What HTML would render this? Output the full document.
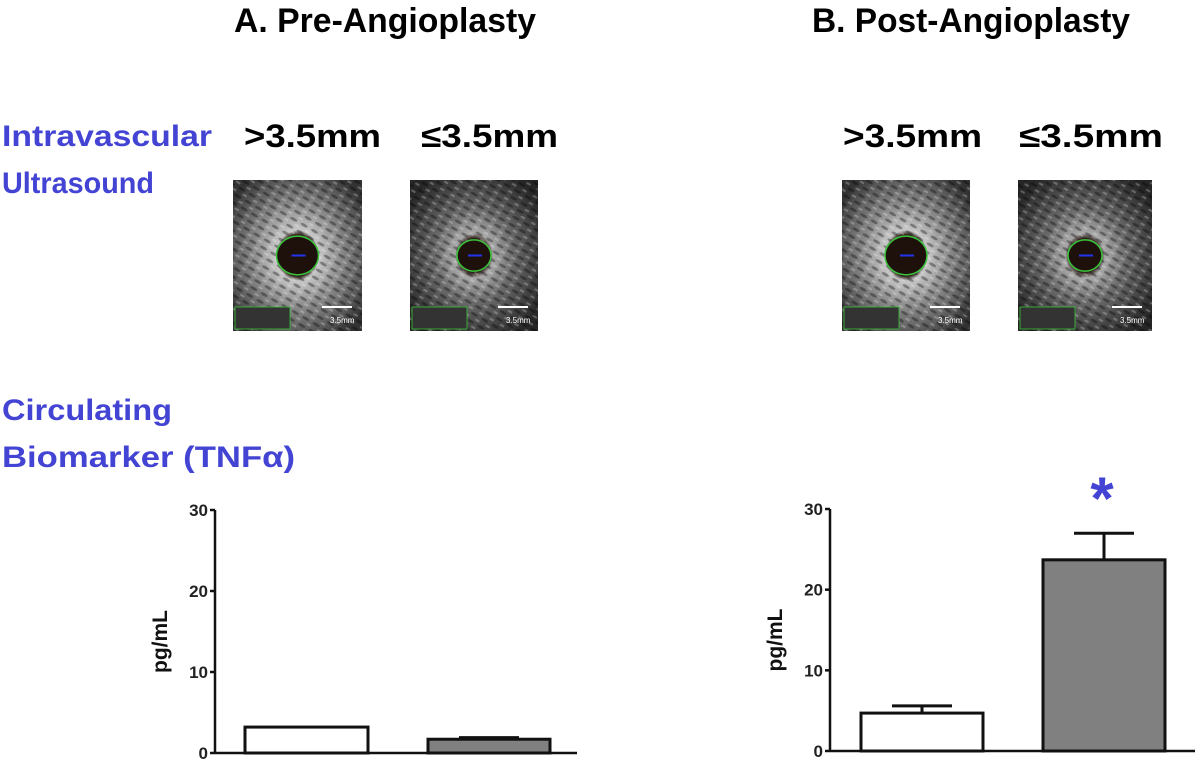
<!DOCTYPE html>
<html><head><meta charset="utf-8"><style>
html,body{margin:0;padding:0;background:#fff;}
svg{display:block;}
.t{font-family:"Liberation Sans",sans-serif;font-weight:bold;}
</style></head><body>
<svg id="fig" width="1200" height="760" viewBox="0 0 1200 760" xmlns="http://www.w3.org/2000/svg">
<defs>
<radialGradient id="us" cx="50%" cy="50%" r="62%">
<stop offset="0" stop-color="#2a1a14"/><stop offset="0.22" stop-color="#2a1a14"/><stop offset="0.27" stop-color="#c8c8c8"/><stop offset="0.55" stop-color="#8a8a8a"/><stop offset="0.85" stop-color="#555"/><stop offset="1" stop-color="#333"/>
</radialGradient>
<radialGradient id="us2" cx="50%" cy="50%" r="62%">
<stop offset="0" stop-color="#2a1a14"/><stop offset="0.18" stop-color="#2a1a14"/><stop offset="0.24" stop-color="#aaa"/><stop offset="0.5" stop-color="#6a6a6a"/><stop offset="0.85" stop-color="#3a3a3a"/><stop offset="1" stop-color="#262626"/>
</radialGradient>
<pattern id="speck" width="12" height="8" patternUnits="userSpaceOnUse" patternTransform="rotate(30)">
<rect width="12" height="8" fill="none"/><ellipse cx="4" cy="3" rx="4" ry="1.5" fill="#000" opacity="0.35"/><ellipse cx="10" cy="7" rx="3" ry="1.2" fill="#fff" opacity="0.25"/>
</pattern>
</defs>
<text class="t" x="234" y="32" font-size="34" textLength="302" lengthAdjust="spacingAndGlyphs">A. Pre-Angioplasty</text>
<text class="t" x="812" y="32" font-size="34" textLength="318" lengthAdjust="spacingAndGlyphs">B. Post-Angioplasty</text>
<g fill="#4444d4" class="t" font-size="30">
<text x="2" y="146" textLength="210" lengthAdjust="spacingAndGlyphs">Intravascular</text>
<text x="2" y="193" textLength="152" lengthAdjust="spacingAndGlyphs">Ultrasound</text>
<text x="2" y="420" textLength="170" lengthAdjust="spacingAndGlyphs">Circulating</text>
<text x="2" y="467" textLength="293" lengthAdjust="spacingAndGlyphs">Biomarker (TNFα)</text>
</g>
<g class="t" font-size="32" fill="#000">
<text x="244" y="147" textLength="137" lengthAdjust="spacingAndGlyphs">&gt;3.5mm</text>
<text x="421" y="147" textLength="137" lengthAdjust="spacingAndGlyphs">≤3.5mm</text>
<text x="843" y="147" textLength="139" lengthAdjust="spacingAndGlyphs">&gt;3.5mm</text>
<text x="1019" y="147" textLength="144" lengthAdjust="spacingAndGlyphs">≤3.5mm</text>
</g>
<g id="images"></g>
<g id="chartA"></g>
<g id="chartB"></g>
</svg>
<script>
const NS="http://www.w3.org/2000/svg";
const categories=["gt3.5mm","le3.5mm"];
const preValues=[3.2,1.7];
const preErr=[3.2,1.9];
const postValues=[4.7,23.7];
const postErr=[5.6,27.0];
const yTicks=[0,10,20,30];
function mk(p,tag,attrs){const e=document.createElementNS(NS,tag);for(const k in attrs)e.setAttribute(k,attrs[k]);p.appendChild(e);return e;}

const img=document.getElementById('images');
const boxes=[[233,180,129,151,'us'],[410,180,128,151,'us2'],[842,180,128,151,'us'],[1018,180,134,151,'us2']];
boxes.forEach((b,i)=>{
 const g=mk(img,'g',{});
 
 
 const [x,y,w,h,gr]=b;
 mk(g,'rect',{x:x,y:y,width:w,height:h,fill:'url(#'+gr+')'});
 mk(g,'rect',{x:x,y:y,width:w,height:h,fill:'url(#speck)'});
 const cx=x+w*0.5,cy=y+h*0.5;
 const r=i%2?17:21;
 mk(g,'ellipse',{cx:cx,cy:cy,rx:r,ry:r*0.92,fill:'#1e110c',stroke:'#3ac43a','stroke-width':1.5});
 mk(g,'line',{x1:cx-6,y1:cy,x2:cx+8,y2:cy,stroke:'#2233ee','stroke-width':2});
 mk(g,'line',{x1:x+w-40,y1:y+h-24,x2:x+w-10,y2:y+h-24,stroke:'#fff','stroke-width':2});
 const t=mk(g,'text',{x:x+w-32,y:y+h-8,fill:'#fff','font-size':8,'font-family':'Liberation Sans, sans-serif'});t.textContent='3.5mm';
 mk(g,'rect',{x:x+2,y:y+h-24,width:55,height:22,fill:'#333',stroke:'#3ac43a','stroke-width':0.8});
});

function chart(id,x0,y0,y30,xEnd,vals,errs,bars,star){
 const g=document.getElementById(id);
 
 
 const ys=v=>y0-(v/30)*(y0-y30);
 vals.forEach((v,i)=>{
  const [bx,bw,fill]=bars[i];
  if(errs[i]>v+0.05){
   const l=mk(g,'line',{x1:bx+bw/2,y1:ys(v),x2:bx+bw/2,y2:ys(errs[i]),stroke:'#111','stroke-width':3});
   
   
   mk(g,'line',{x1:bx+bw/2-30,y1:ys(errs[i]),x2:bx+bw/2+30,y2:ys(errs[i]),stroke:'#111','stroke-width':3});
  }
  const r=mk(g,'rect',{x:bx,y:ys(v),width:bw,height:y0-ys(v),fill:fill,stroke:'#111','stroke-width':3});
  
  
 });
 mk(g,'line',{x1:x0,y1:y30,x2:x0,y2:y0,stroke:'#111','stroke-width':2.5});
 mk(g,'line',{x1:x0,y1:y0,x2:xEnd,y2:y0,stroke:'#111','stroke-width':2.5});
 yTicks.forEach(v=>{
  mk(g,'line',{x1:x0-5,y1:ys(v),x2:x0,y2:ys(v),stroke:'#111','stroke-width':2.5});
  const t=mk(g,'text',{x:x0-7,y:ys(v)+6,'text-anchor':'end','font-size':17,'font-weight':'bold','font-family':'Liberation Sans, sans-serif',fill:'#222'});
  t.textContent=v;
  
  
 });
 const yl=mk(g,'text',{x:0,y:0,transform:`translate(${x0-48},${(y0+y30)/2+10}) rotate(-90)`,'text-anchor':'middle','font-size':21,'font-weight':'bold','font-family':'Liberation Sans, sans-serif',fill:'#111'});
 yl.textContent='pg/mL';
 
 
 if(star){
  const s=mk(g,'text',{x:star,y:ys(errs[1])-14,'text-anchor':'middle','font-size':60,'font-weight':'bold','font-family':'Liberation Sans, sans-serif',fill:'#4444d4'});
  s.textContent='*';
  
  
 }
}
chart('chartA',215,753,510,577,preValues,preErr,[[245,123,'#fff'],[428,122,'#808080']],null);
chart('chartB',830,751,509,1195,postValues,postErr,[[861,122,'#fff'],[1043,122,'#808080']],1102);
</script>
</body></html>
